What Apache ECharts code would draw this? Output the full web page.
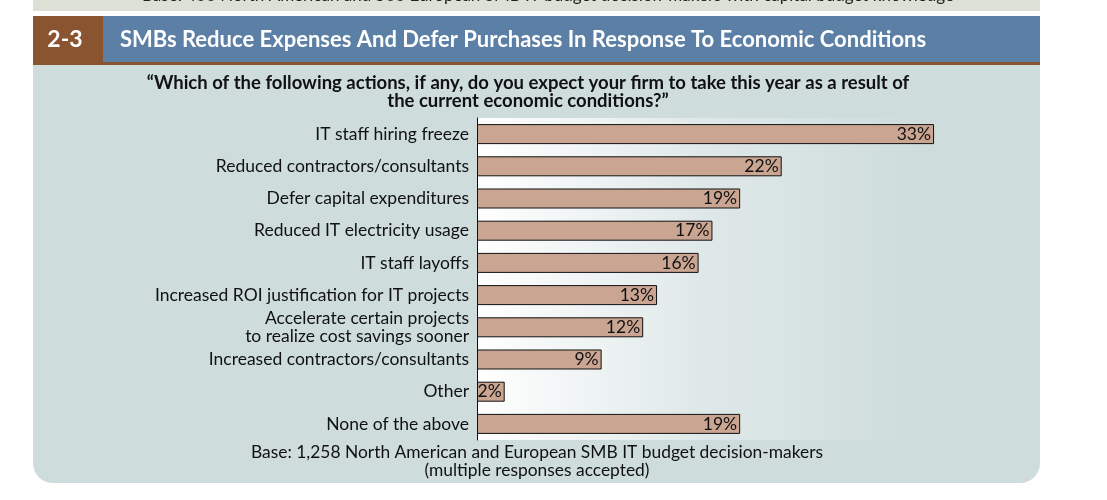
<!DOCTYPE html>
<html><head><meta charset="utf-8">
<script src="https://cdn.jsdelivr.net/npm/echarts@6/dist/echarts.min.js"></script>
<style>html,body{margin:0;padding:0;background:#fff}#c{width:1107px;height:500px}</style>
</head><body><div id="c"></div>
<script>
const categories = [
  "IT staff hiring freeze",
  "Reduced contractors/consultants",
  "Defer capital expenditures",
  "Reduced IT electricity usage",
  "IT staff layoffs",
  "Increased ROI justification for IT projects",
  "Accelerate certain projects\nto realize cost savings sooner",
  "Increased contractors/consultants",
  "Other",
  "None of the above"
];
const values = [33, 22, 19, 17, 16, 13, 12, 9, 2, 19];
const figureNumber = "2-3";
const headerTitle = "SMBs Reduce Expenses And Defer Purchases In Response To Economic Conditions";
const question = "\u201CWhich of the following actions, if any, do you expect your firm to take this year as a result of\nthe current economic conditions?\u201D";
const footnote = "Base: 1,258 North American and European SMB IT budget decision-makers\n(multiple responses accepted)";
const topStripText = "Base: 400 North American and 500 European SMB IT budget decision-makers with capital budget knowledge";

const FONT = "Lato";
const chart = echarts.init(document.getElementById('c'));
chart.setOption({
  animation: false,
  backgroundColor: '#ffffff',
  graphic: [
    {type:'rect', z:-20, shape:{x:33,y:0,width:1007,height:11}, style:{fill:'#dde0d4'}},
    {type:'text', z:-19, style:{x:548, y:-13, text:topStripText, font:'17px '+FONT, fill:'#222', align:'center', verticalAlign:'top'}},
    {type:'rect', z:-18, shape:{x:0,y:11,width:1107,height:5}, style:{fill:'#ffffff'}},
    {type:'rect', z:-20, shape:{x:33,y:65,width:1007,height:418,r:[0,0,20,20]}, style:{fill:'#cedcdc'}},
    {type:'rect', z:-19, shape:{x:477,y:118,width:450,height:322},
      style:{fill:{type:'linear',x:0,y:0,x2:1,y2:0,colorStops:[
        {offset:0,color:'rgba(255,255,255,1)'},
        {offset:0.5,color:'rgba(255,255,255,0.35)'},
        {offset:1,color:'rgba(255,255,255,0)'}]}}},
    {type:'rect', z:-18, shape:{x:33,y:16,width:70,height:49}, style:{fill:'#8b5431'}},
    {type:'rect', z:-18, shape:{x:103,y:16,width:937,height:46}, style:{fill:'#5b7fa5'}},
    {type:'rect', z:-18, shape:{x:103,y:62,width:937,height:3}, style:{fill:'#8b5431'}},
    {type:'text', z:-17, style:{x:65, y:40, text:figureNumber, font:'bold 23px '+FONT, fill:'#ffffff', align:'center', verticalAlign:'middle'}},
    {type:'text', z:-17, style:{x:120, y:40, text:headerTitle, font:'bold 22px '+FONT, fill:'#ffffff', align:'left', verticalAlign:'middle'}},
    {type:'text', z:-17, style:{x:528, y:92, text:question, font:'bold 18.5px '+FONT, lineHeight:17.5, fill:'#111', align:'center', verticalAlign:'middle'}},
    {type:'text', z:-17, style:{x:537, y:461, text:footnote, font:'17.4px '+FONT, lineHeight:18, fill:'#111', align:'center', verticalAlign:'middle'}}
  ],
  grid: {left:477, width:554, top:118, height:322, containLabel:false},
  xAxis: {type:'value', min:0, max:40, show:false},
  yAxis: {type:'category', data:categories, inverse:true,
    axisLine:{show:true, lineStyle:{color:'#111', width:1}},
    axisTick:{show:false},
    axisLabel:{color:'#111', fontFamily:FONT, fontSize:17.5, lineHeight:18, margin:8, align:'right'}
  },
  series: [{
    type:'bar', data:values, barWidth:20,
    itemStyle:{color:'#c9a592', borderColor:'#111', borderWidth:1},
    label:{show:true, position:'insideRight', distance:3, formatter:'{c}%', color:'#111', fontFamily:FONT, fontSize:17.5}
  }]
});
</script></body></html>
